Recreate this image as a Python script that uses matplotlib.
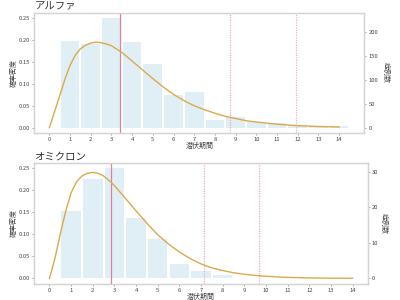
import matplotlib
matplotlib.use("Agg")
import matplotlib.pyplot as plt

plt.rcParams['font.family'] = ['Noto Sans CJK JP', 'DejaVu Sans']

# ---- data ----
days = [1, 2, 3, 4, 5, 6, 7, 8, 9, 10, 11, 12, 13, 14]
alpha_counts = [181, 174, 228, 179, 132, 68, 74, 17, 22, 12, 10, 6, 4, 3]
omicron_days = [1, 2, 3, 4, 5, 6, 7, 8]
omicron_counts = [19, 28, 31, 17, 11, 4, 2, 1]

curve_x = [0, 0.25, 0.5, 0.75, 1.0, 1.25, 1.5, 1.75, 2.0, 2.25, 2.5, 2.75,
           3.0, 3.5, 4.0, 4.5, 5.0, 5.5, 6.0, 6.5, 7.0, 7.5, 8.0, 8.5,
           9.0, 9.5, 10, 11, 12, 13, 14]
alpha_density = [0, 0.036, 0.073, 0.110, 0.142, 0.165, 0.180, 0.188, 0.193,
                 0.195, 0.194, 0.191, 0.187, 0.172, 0.152, 0.132, 0.112,
                 0.093, 0.076, 0.062, 0.050, 0.041, 0.033, 0.026, 0.021,
                 0.016, 0.013, 0.008, 0.0047, 0.0028, 0.0016]
omicron_density = [0, 0.045, 0.101, 0.152, 0.194, 0.219, 0.232, 0.238, 0.240,
                   0.238, 0.232, 0.222, 0.210, 0.182, 0.153, 0.125, 0.099,
                   0.078, 0.060, 0.045, 0.033, 0.024, 0.018, 0.013, 0.0095,
                   0.007, 0.005, 0.0025, 0.0013, 0.0007, 0.0004]

alpha_center = 3.42
alpha_upper = [8.73, 11.91]
omicron_center = 2.85
omicron_upper = [7.14, 9.66]

titles = ["アルファ", "オミクロン"]
xlabel = "潜伏期間"
ylabel_left = "確率密度"
ylabel_right = "症例数"
left_ticks = [0.00, 0.05, 0.10, 0.15, 0.20, 0.25]
xticks = list(range(0, 15))

BAR = '#e0eef5'
CURVE = '#dba94c'
RED = '#e0809c'
PINK = '#f4a6cc'
SPINE = '#d4d4d4'
TXT = '#444444'

fig = plt.figure(figsize=(4, 3), dpi=100)
axes_pos = [[0.0858, 0.556, 0.8253, 0.402], [0.0858, 0.0533, 0.8334, 0.405]]
rlabel_x = [1.066, 1.049]

panels = [
    (days, alpha_counts, alpha_density, alpha_center, alpha_upper, [0, 50, 100, 150, 200], (-0.725, 15.225)),
    (omicron_days, omicron_counts, omicron_density, omicron_center, omicron_upper, [0, 10, 20, 30], (-0.7, 14.7)),
]

for i, (bx, bc, dens, cen, ups, rticks, xl) in enumerate(panels):
    ax = fig.add_axes(axes_pos[i])
    ax2 = ax.twinx()
    ax2.bar(bx, bc, width=0.9, color=BAR, zorder=1)
    m = max(bc)
    ax2.set_ylim(-0.05 * m, 1.05 * m)
    ax2.set_yticks(rticks)
    ax.set_zorder(ax2.get_zorder() + 1)
    ax.patch.set_visible(False)
    ax.plot(curve_x, dens, color=CURVE, lw=1.0, zorder=3)
    ax.axvline(cen, color=RED, lw=0.9, zorder=2)
    for u in ups:
        ax.axvline(u, color=PINK, lw=0.9, ls=(0, (1.0, 1.0)), zorder=2)
    ax.set_xlim(*xl)
    ax.set_ylim(-0.0125, 0.2625)
    ax.set_yticks(left_ticks)
    ax.set_yticklabels([f"{t:.2f}" for t in left_ticks])
    ax.set_xticks(xticks)
    for a in (ax, ax2):
        a.tick_params(labelsize=4.2, length=1.5, width=0.5, colors='#888888',
                      labelcolor=TXT, pad=1.5)
        for s in a.spines.values():
            s.set_color(SPINE)
            s.set_linewidth(0.9)
    ax.set_title(titles[i], loc='left', fontsize=7.5, color='#333333', pad=2.5)
    ax.set_xlabel(xlabel, fontsize=5, color=TXT, labelpad=0)
    ax.set_ylabel(ylabel_left, fontsize=5, color=TXT, labelpad=1)
    ax2.set_ylabel(ylabel_right, fontsize=5, color=TXT, rotation=270,
                   va='center', ha='center', rotation_mode='anchor')
    ax2.yaxis.set_label_coords(rlabel_x[i], 0.5)

fig.savefig("out.png", dpi=100)
